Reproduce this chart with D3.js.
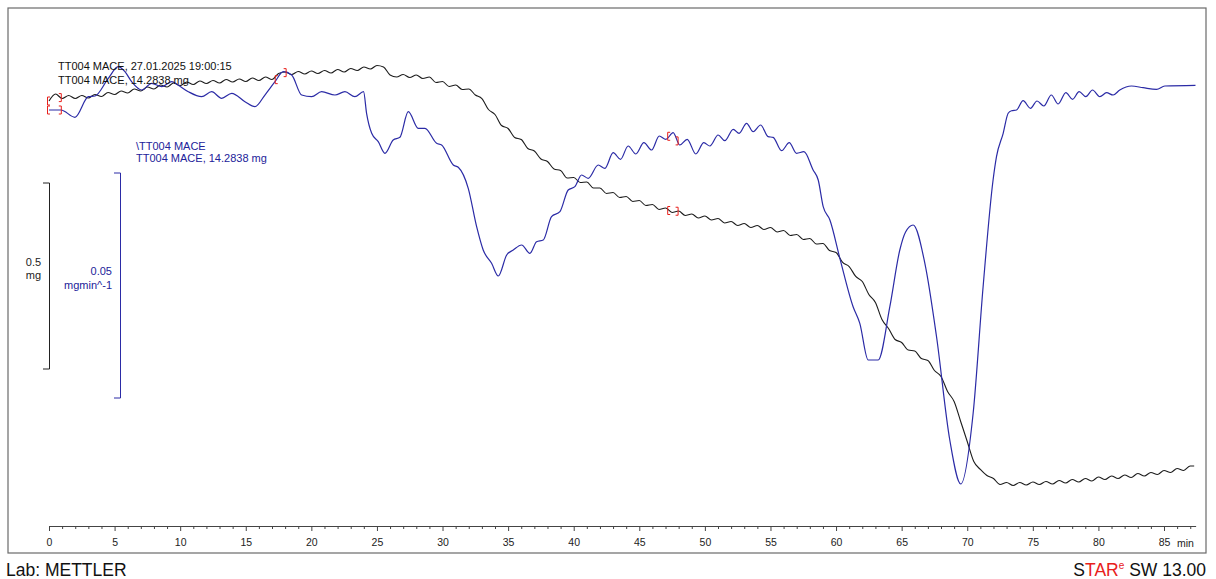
<!DOCTYPE html>
<html><head><meta charset="utf-8">
<script src="https://cdn.jsdelivr.net/npm/d3@7"></script>
<style>
body{margin:0;background:#fff;}
svg{display:block;}
text{font-family:"Liberation Sans",Arial,sans-serif;}
</style>
</head><body>
<svg id="c" width="1216" height="579"></svg>
<script>
// ---------- DATA ----------
const majorTicks = [0,5,10,15,20,25,30,35,40,45,50,55,60,65,70,75,80,85];
const axisUnit = "min";
const sampleName = "TT004 MACE";
const sampleMass = 14.2838; // mg

// TGA curve (time in min, mass in mg)
const tgaTime = [0,0.5,1,1.5,2,2.5,3,3.5,4,4.5,5,5.5,6,6.5,7,7.5,8,8.5,9,9.5,10,10.5,11,11.5,12,12.5,13,13.5,14,14.5,15,15.5,16,16.5,17,17.5,18,18.5,19,19.5,20,20.5,21,21.5,22,22.5,23,23.5,24,24.5,25,25.5,26,26.5,27,27.5,28,28.5,29,29.5,30,30.5,31,31.5,32,32.5,33,33.5,34,34.5,35,35.5,36,36.5,37,37.5,38,38.5,39,39.5,40,40.5,41,41.5,42,42.5,43,43.5,44,44.5,45,45.5,46,46.5,47,47.5,48,48.5,49,49.5,50,50.5,51,51.5,52,52.5,53,53.5,54,54.5,55,55.5,56,56.5,57,57.5,58,58.5,59,59.5,60,60.5,61,61.5,62,62.5,63,63.5,64,64.5,65,65.5,66,66.5,67,67.5,68,68.5,69,69.5,70,70.5,71,71.5,72,72.5,73,73.5,74,74.5,75,75.5,76,76.5,77,77.5,78,78.5,79,79.5,80,80.5,81,81.5,82,82.5,83,83.5,84,84.5,85,85.5,86,86.5,87,87.3];
const tgaMass = [14.2838,14.3026,14.2905,14.2986,14.2905,14.2986,14.2919,14.3013,14.2959,14.3066,14.3013,14.3107,14.3053,14.3161,14.3107,14.3214,14.3161,14.3268,14.3214,14.3322,14.3255,14.3349,14.3282,14.3376,14.3308,14.3389,14.3322,14.3416,14.3349,14.3429,14.3362,14.3456,14.3389,14.3483,14.3416,14.3577,14.3618,14.3550,14.3631,14.3564,14.3644,14.3577,14.3658,14.3591,14.3685,14.3618,14.3712,14.3658,14.3752,14.3698,14.3792,14.3752,14.3537,14.3483,14.3550,14.3470,14.3537,14.3443,14.3483,14.3335,14.3362,14.3228,14.3268,14.3147,14.3161,14.2999,14.2905,14.2610,14.2475,14.2179,14.2099,14.1857,14.1803,14.1561,14.1494,14.1279,14.1212,14.1010,14.0970,14.0768,14.0782,14.0647,14.0661,14.0499,14.0499,14.0352,14.0378,14.0244,14.0271,14.0137,14.0163,14.0029,14.0056,13.9922,13.9962,13.9841,13.9881,13.9760,13.9801,13.9693,13.9747,13.9639,13.9680,13.9559,13.9599,13.9491,13.9545,13.9438,13.9491,13.9384,13.9438,13.9317,13.9357,13.9223,13.9250,13.9115,13.9142,13.8994,13.9008,13.8819,13.8766,13.8497,13.8389,13.8121,13.7986,13.7637,13.7422,13.6965,13.6723,13.6427,13.6346,13.6145,13.6118,13.5916,13.5863,13.5594,13.5433,13.5029,13.4761,13.4223,13.3685,13.3148,13.2933,13.2771,13.2691,13.2530,13.2583,13.2503,13.2583,13.2516,13.2597,13.2530,13.2610,13.2543,13.2637,13.2570,13.2664,13.2597,13.2691,13.2624,13.2731,13.2664,13.2758,13.2691,13.2785,13.2718,13.2825,13.2758,13.2852,13.2798,13.2906,13.2852,13.2960,13.2906,13.3027,13.3027];

// DTG curve (time in min, rate in mg/min)
const dtgTime = [0,0.91,1.98,3.0,3.5,4.52,5.28,5.79,6.3,7.07,7.83,8.59,9.35,9.83,10.62,11.64,12.4,13.16,13.93,14.94,15.7,16.46,17.23,17.86,18.5,19.26,20.02,20.78,21.8,22.56,23.32,23.98,24.21,24.6,25.1,25.61,26.24,26.75,27.39,28.15,28.66,29.55,29.93,30.82,31.2,31.96,32.6,33.1,33.74,34.25,34.89,35.39,36.03,36.66,37.17,37.68,38.31,38.95,39.58,40.09,40.6,41.1,41.87,42.38,43.01,43.57,44.15,44.74,45.35,45.94,46.52,47.03,47.58,48.09,48.65,49.31,49.92,50.38,51.01,51.52,52.16,52.61,53.18,53.68,54.25,54.82,55.2,55.85,56.43,56.99,57.55,58.25,58.64,59.02,59.53,60.29,61.3,61.81,62.45,63.21,64.1,64.86,65.3,65.88,66.77,67.66,68.67,69.51,70.45,71.21,71.97,72.23,72.74,73.12,73.38,73.76,74.26,74.82,75.32,75.84,76.41,76.93,77.52,78.03,78.53,79.04,79.55,80.11,80.62,81.12,81.63,82.52,83.41,84.43,85.06,87.4];
const dtgRate = [0,0,-0.00162,0.00296,0.00311,0.00704,0.00962,0.00851,0.00629,0.00444,0.00593,0.00518,0.00629,0.00556,0.00407,0.00296,0.00407,0.00260,0.00371,0.00184,0.00073,0.00333,0.00629,0.00851,0.00778,0.00333,0.00296,0.00407,0.00333,0.00407,0.00296,0.00407,-0.00073,-0.00518,-0.00704,-0.00962,-0.00667,-0.00607,-0.00038,-0.00407,-0.00407,-0.00740,-0.00778,-0.01222,-0.01273,-0.01740,-0.02593,-0.03111,-0.03407,-0.03689,-0.03222,-0.03111,-0.03000,-0.03184,-0.02927,-0.02889,-0.02371,-0.02260,-0.01778,-0.01704,-0.01444,-0.01518,-0.01222,-0.01296,-0.00949,-0.01096,-0.00800,-0.00978,-0.00727,-0.00889,-0.00578,-0.00651,-0.00504,-0.00778,-0.00651,-0.00978,-0.00727,-0.00800,-0.00556,-0.00682,-0.00429,-0.00518,-0.00296,-0.00482,-0.00333,-0.00593,-0.00607,-0.00904,-0.00727,-0.00962,-0.00927,-0.01333,-0.01556,-0.02149,-0.02444,-0.03296,-0.04371,-0.04740,-0.05556,-0.05556,-0.04371,-0.03111,-0.02711,-0.02556,-0.03407,-0.05038,-0.07333,-0.08311,-0.06740,-0.03927,-0.01556,-0.01038,-0.00518,-0.00073,-0.00016,0,0.00207,0.00038,0.00200,0.00089,0.00333,0.00133,0.00384,0.00238,0.00407,0.00296,0.00444,0.00296,0.00384,0.00333,0.00444,0.00533,0.00496,0.00460,0.00533,0.00549];

// evaluation limit brackets (start, end) in min
const tgaBrackets = [[0,0.9],[47.28,47.92]];
const dtgBrackets = [[0,0.9],[17.36,18.04],[47.28,47.92]];

// scale bars
const massBar = 0.5;   // mg
const rateBar = 0.05;  // mg/min

// ---------- CHART ----------
const svg = d3.select("#c");
const BLACK = "#1c1c1c", BLUE = "#2b2ba6", BLUE_TXT = "#22229a", RED = "#e8201c";

svg.append("rect").attr("x",8).attr("y",8).attr("width",1198).attr("height",545)
  .attr("fill","none").attr("stroke","#6a6a6a").attr("stroke-width",1.2);

const x = d3.scaleLinear().domain([0,85]).range([49,1164]);
const yM = d3.scaleLinear().domain([sampleMass, sampleMass-1]).range([101,473]);
const yD = d3.scaleLinear().domain([0,-0.1]).range([110,560]);

// axis
const axisY = 526;
const gAxis = svg.append("g").attr("transform",`translate(0,${axisY})`);
const minorTicks = d3.range(0,88).filter(v => v % 5 !== 0);
gAxis.append("g").call(d3.axisBottom(x).tickValues(minorTicks).tickSize(3).tickSizeOuter(0).tickFormat(""))
  .call(g => g.select(".domain").remove());
gAxis.append("g").call(d3.axisBottom(x).tickValues(majorTicks).tickSize(5).tickSizeOuter(0).tickPadding(8).tickFormat(d3.format("d")))
  .call(g => g.select(".domain").remove())
  .call(g => g.selectAll("text").attr("font-size",10.5).attr("fill","#222").attr("font-family","Liberation Sans, Arial, sans-serif"));
gAxis.selectAll(".tick line").attr("stroke","#444");
gAxis.append("line").attr("x1",x(0)).attr("x2",x(87.45)).attr("y1",0.5).attr("y2",0.5).attr("stroke","#444").attr("stroke-width",1);
svg.append("text").attr("x",1177).attr("y",547).attr("font-size",10.5).attr("fill","#222").text(axisUnit);

// curves
const tgaData = tgaTime.map((t,i)=>[t,tgaMass[i]]);
const dtgData = dtgTime.map((t,i)=>[t,dtgRate[i]]);
svg.append("path").datum(tgaData)
  .attr("d", d3.line().x(d=>x(d[0])).y(d=>yM(d[1])).curve(d3.curveMonotoneX))
  .attr("fill","none").attr("stroke",BLACK).attr("stroke-width",1.1);
svg.append("path").datum(dtgData)
  .attr("d", d3.line().x(d=>x(d[0])).y(d=>yD(d[1])).curve(d3.curveMonotoneX))
  .attr("fill","none").attr("stroke",BLUE).attr("stroke-width",1.2);

// brackets
function interp(data, t){
  const i = d3.bisector(d=>d[0]).left(data, t);
  if (i<=0) return data[0][1];
  if (i>=data.length) return data[data.length-1][1];
  const a=data[i-1], b=data[i]; const f=(t-a[0])/(b[0]-a[0]);
  return a[1]+(b[1]-a[1])*f;
}
function drawBrackets(list, data, ys){
  list.forEach(([t0,t1])=>{
    const xa = x(t0)-1.5, ya = ys(interp(data,t0));
    const xb = x(t1)+0.5, yb = ys(interp(data,t1));
    svg.append("path").attr("d",`M${xa+2.5},${ya-4}H${xa}V${ya+4}H${xa+2.5}`)
      .attr("fill","none").attr("stroke",RED).attr("stroke-width",1);
    svg.append("path").attr("d",`M${xb-2.5},${yb-4}H${xb}V${yb+4}H${xb-2.5}`)
      .attr("fill","none").attr("stroke",RED).attr("stroke-width",1);
  });
}
drawBrackets(tgaBrackets, tgaData, yM);
drawBrackets(dtgBrackets, dtgData, yD);

// curve labels
const fs = 11;
svg.append("text").attr("x",58).attr("y",70).attr("font-size",fs).attr("fill","#111")
  .text(`${sampleName}, 27.01.2025 19:00:15`);
svg.append("text").attr("x",58).attr("y",84).attr("font-size",fs).attr("fill","#111")
  .text(`${sampleName}, ${sampleMass.toFixed(4)} mg`);
svg.append("text").attr("x",136).attr("y",150).attr("font-size",fs).attr("fill",BLUE_TXT)
  .text(`\\${sampleName}`);
svg.append("text").attr("x",136).attr("y",162).attr("font-size",fs).attr("fill",BLUE_TXT)
  .text(`${sampleName}, ${sampleMass.toFixed(4)} mg`);

// scale bars
const mTop = 183, mLen = yM(sampleMass-massBar)-yM(sampleMass);
svg.append("path").attr("d",`M43,${mTop}H49.5V${mTop+mLen}H43`).attr("fill","none").attr("stroke","#222").attr("stroke-width",1);
svg.append("text").attr("x",33.5).attr("y",266).attr("text-anchor","middle").attr("font-size",fs).attr("fill","#222").text(String(massBar));
svg.append("text").attr("x",33.5).attr("y",279).attr("text-anchor","middle").attr("font-size",fs).attr("fill","#222").text("mg");

const rTop = 173, rLen = yD(-rateBar)-yD(0);
svg.append("path").attr("d",`M114,${rTop}H120.5V${rTop+rLen}H114`).attr("fill","none").attr("stroke",BLUE).attr("stroke-width",1);
svg.append("text").attr("x",112).attr("y",275).attr("text-anchor","end").attr("font-size",fs).attr("fill",BLUE_TXT).text(String(rateBar));
svg.append("text").attr("x",112).attr("y",289).attr("text-anchor","end").attr("font-size",fs).attr("fill",BLUE_TXT).text("mgmin^-1");

// footer
svg.append("text").attr("x",6).attr("y",576).attr("font-size",17.5).attr("fill","#111").text("Lab: METTLER");
const st = svg.append("text").attr("x",1206).attr("y",576).attr("text-anchor","end").attr("font-size",17.5).attr("fill","#111");
st.append("tspan").text("S");
st.append("tspan").attr("fill",RED).text("TAR");
st.append("tspan").attr("fill",RED).attr("font-size",10).attr("dy",-7).text("e");
st.append("tspan").attr("dy",7).text(" SW 13.00");
</script>
</body></html>
